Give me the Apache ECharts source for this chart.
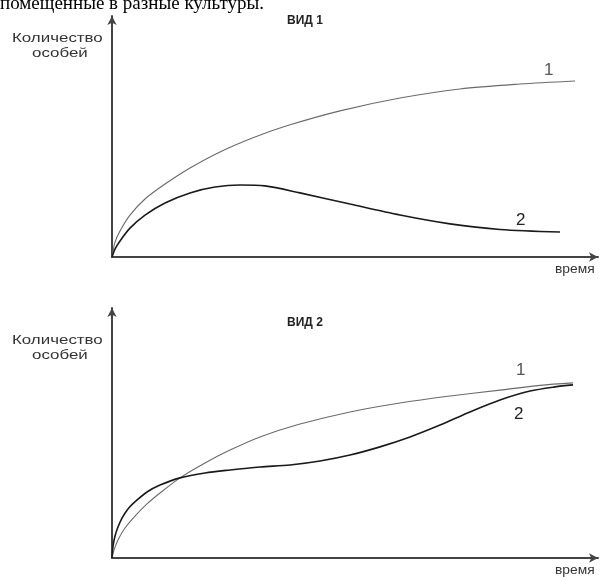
<!DOCTYPE html>
<html>
<head>
<meta charset="utf-8">
<script src="https://cdn.jsdelivr.net/npm/echarts@6/dist/echarts.min.js"></script>
<style>html,body{margin:0;padding:0;background:#fff;}#c{width:600px;height:577px;}</style>
</head>
<body>
<div id="c"></div>
<script>
// Вид 1
const v1_curve1 = [[0,0],[0.62,6.4],[1.65,11.2],[3.70,18.0],[6.79,24.9],[10.91,31.3],[16.05,38.2],[22.22,45.1],[29.42,51.5],[36.63,56.7],[46.91,62.7],[59.26,68.2],[71.60,72.1],[83.95,74.2],[95.27,75.5]];
const v1_curve2 = [[0,0],[0.62,3.4],[1.65,6.9],[3.70,12.4],[6.79,18.0],[10.91,23.2],[16.05,27.5],[21.19,30.0],[26.34,30.9],[31.48,30.5],[38.68,27.5],[48.97,22.7],[59.26,18.0],[69.55,14.2],[79.84,11.8],[92.18,10.7]];
// Вид 2
const v2_curve1 = [[0,0],[0.41,3.2],[1.23,7.3],[2.67,12.1],[4.73,16.9],[7.20,21.8],[9.88,26.2],[13.99,32.3],[19.14,38.3],[24.28,43.5],[30.45,48.8],[38.68,54.0],[48.97,58.9],[59.26,62.5],[69.55,65.3],[79.84,67.7],[88.07,69.6],[94.86,70.6]];
const v2_curve2 = [[0,0],[0.21,4.8],[0.62,8.9],[1.23,12.5],[2.06,16.1],[3.29,19.8],[4.94,23.0],[7.20,26.6],[9.88,29.4],[13.99,32.3],[19.14,34.3],[24.28,35.5],[30.45,36.7],[36.63,37.5],[42.80,39.1],[48.97,41.5],[55.14,44.8],[61.32,48.8],[67.49,53.6],[73.66,58.9],[79.84,63.7],[86.01,67.3],[91.15,69.0],[94.86,69.8]];

const titles = ['ВИД 1', 'ВИД 2'];
const yName = ['Количество', 'особей'];
const xName = 'время';
const heading = 'помещенные в разные культуры.';

const chart = echarts.init(document.getElementById('c'));
const axisLine = {show:true, onZero:true, symbol:['none','arrow'], symbolSize:[7,9], lineStyle:{color:'#444', width:2}};
const xAx = (g) => ({type:'value', gridIndex:g, min:0, max:100, axisLine:axisLine, axisTick:{show:false}, axisLabel:{show:false}, splitLine:{show:false}});
const yAx = (g, m) => ({type:'value', gridIndex:g, min:0, max:m, axisLine:axisLine, axisTick:{show:false}, axisLabel:{show:false}, splitLine:{show:false}});
const line = (data, g, color, w) => ({type:'line', xAxisIndex:g, yAxisIndex:g, data:data, smooth:0.3, symbol:'none', lineStyle:{color:color, width:w}, silent:true, animation:false});
const txt = (x, y, s, size, color, weight, sx) => ({type:'text', left:x, top:y, scaleX:sx||1, style:{text:s, fontSize:size, fill:color, fontWeight:weight||'normal', fontFamily:'Liberation Sans, Arial, sans-serif'}});

chart.setOption({
  animation:false,
  grid:[
    {left:112, right:2, top:16, bottom:320},
    {left:112, right:2, top:308, bottom:19}
  ],
  xAxis:[xAx(0), xAx(1)],
  yAxis:[yAx(0,103.4), yAx(1,100.8)],
  series:[
    line(v1_curve1, 0, '#6a6a6a', 1.1),
    line(v1_curve2, 0, '#1a1a1a', 1.6),
    line(v2_curve1, 1, '#6a6a6a', 1.1),
    line(v2_curve2, 1, '#1a1a1a', 1.6)
  ],
  graphic:[
    {type:'text', left:0, top:-5, style:{text:heading, fontSize:19, fill:'#000', fontFamily:'Liberation Serif, Times New Roman, serif'}},
    txt(287, 15, titles[0], 12, '#222', 'bold'),
    txt(287, 317, titles[1], 12, '#222', 'bold'),
    txt(12, 32, yName[0], 13, '#333', 'normal', 1.3),
    txt(32, 47, yName[1], 13, '#333', 'normal', 1.3),
    txt(12, 334, yName[0], 13, '#333', 'normal', 1.3),
    txt(32, 349, yName[1], 13, '#333', 'normal', 1.3),
    txt(555, 264, xName, 12, '#333', 'normal', 1.15),
    txt(555, 565, xName, 12, '#333', 'normal', 1.15),
    txt(544, 62, '1', 17, '#555'),
    txt(516, 212, '2', 17, '#222'),
    txt(516, 362, '1', 17, '#555'),
    txt(514, 406, '2', 17, '#222')
  ]
});
</script>
</body>
</html>
